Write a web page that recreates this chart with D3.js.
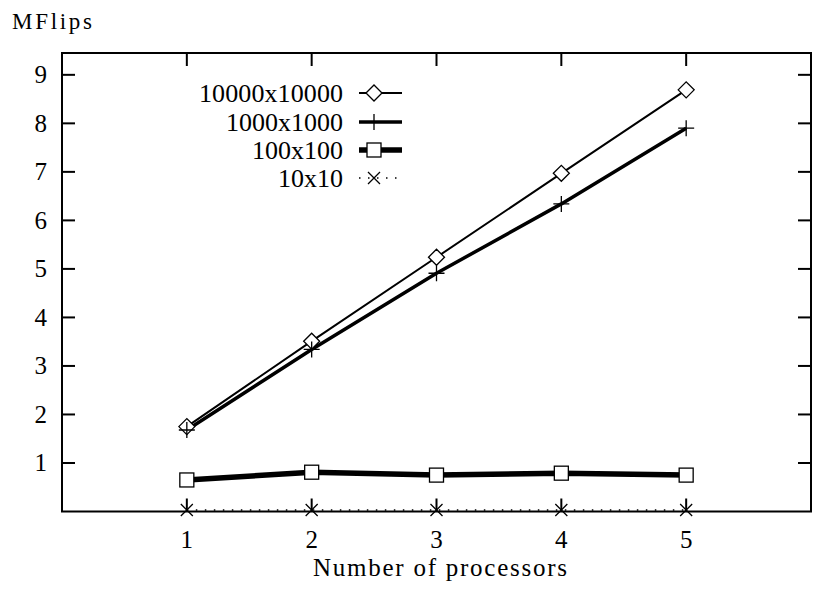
<!DOCTYPE html>
<html>
<head>
<meta charset="utf-8">
<script src="https://cdn.jsdelivr.net/npm/d3@7"></script>
<style>
  body { margin: 0; background: #fff; }
  text { font-family: "Liberation Serif", "DejaVu Serif", serif; fill: #000; }
</style>
</head>
<body>
<svg id="chart" width="816" height="589"></svg>
<script>
const processors = [1, 2, 3, 4, 5];
const xTicks = [1, 2, 3, 4, 5];
const yTicks = [1, 2, 3, 4, 5, 6, 7, 8, 9];
const seriesNames = ["10000x10000", "1000x1000", "100x100", "10x10"];
const s10000 = [1.75, 3.51, 5.24, 6.97, 8.69];
const s1000 = [1.68, 3.34, 4.91, 6.34, 7.90];
const s100 = [0.65, 0.81, 0.75, 0.79, 0.75];
const s10 = [0.03, 0.03, 0.03, 0.03, 0.03];
const yLabel = "MFlips";
const xLabel = "Number of processors";

const svg = d3.select("#chart");
const L = 62, R = 811, T = 53, B = 511.5;
const x = d3.scaleLinear().domain([0, 6]).range([L, R]);
const y = d3.scaleLinear().domain([0, 9.45]).range([B, T]);

const series = [
  { name: seriesNames[0], values: s10000, width: 2, dash: null, sym: "diamond", legW: 144 },
  { name: seriesNames[1], values: s1000, width: 3.5, dash: null, sym: "plus", legW: 117 },
  { name: seriesNames[2], values: s100, width: 5.5, dash: null, sym: "square", legW: 91 },
  { name: seriesNames[3], values: s10, width: 1.5, dash: "1.5,7.5", sym: "cross", legW: 65 }
];

const tickLen = 13;
const fs = 25;

const axG = svg.append("g").attr("stroke", "#000").attr("stroke-width", 2);
xTicks.forEach(t => {
  axG.append("line").attr("x1", x(t)).attr("x2", x(t)).attr("y1", B).attr("y2", B - tickLen);
  axG.append("line").attr("x1", x(t)).attr("x2", x(t)).attr("y1", T).attr("y2", T + tickLen);
});
yTicks.forEach(t => {
  axG.append("line").attr("x1", L).attr("x2", L + tickLen).attr("y1", y(t)).attr("y2", y(t));
  axG.append("line").attr("x1", R).attr("x2", R - tickLen).attr("y1", y(t)).attr("y2", y(t));
});

svg.append("g").selectAll("text").data(xTicks).join("text")
  .attr("x", d => x(d)).attr("y", 548).attr("text-anchor", "middle")
  .attr("font-size", fs).text(d => d);
svg.append("g").selectAll("text").data(yTicks).join("text")
  .attr("x", 47).attr("y", d => y(d)).attr("dy", "0.34em").attr("text-anchor", "end")
  .attr("font-size", fs).text(d => d);

svg.append("text").attr("x", 12).attr("y", 29).attr("font-size", 23)
  .attr("textLength", 80).attr("lengthAdjust", "spacing").text(yLabel);
svg.append("text").attr("x", 313).attr("y", 576)
  .attr("font-size", fs).attr("textLength", 254).attr("lengthAdjust", "spacing").text(xLabel);

function drawSym(g, type, cx, cy) {
  if (type === "diamond") {
    g.append("path").attr("d", `M${cx - 8},${cy}L${cx},${cy - 8}L${cx + 8},${cy}L${cx},${cy + 8}Z`)
      .attr("fill", "#fff").attr("stroke", "#000").attr("stroke-width", 1.3);
  } else if (type === "plus") {
    g.append("path").attr("d", `M${cx - 8},${cy}H${cx + 8}M${cx},${cy - 8}V${cy + 8}`)
      .attr("fill", "none").attr("stroke", "#000").attr("stroke-width", 1.3);
  } else if (type === "square") {
    g.append("rect").attr("x", cx - 7).attr("y", cy - 7).attr("width", 14).attr("height", 14)
      .attr("fill", "#fff").attr("stroke", "#000").attr("stroke-width", 1.3);
  } else if (type === "cross") {
    g.append("path").attr("d", `M${cx - 6},${cy - 6}L${cx + 6},${cy + 6}M${cx - 6},${cy + 6}L${cx + 6},${cy - 6}`)
      .attr("fill", "none").attr("stroke", "#000").attr("stroke-width", 1.3);
  }
}

const line = d3.line().x((d, i) => x(processors[i])).y(d => y(d));

const plotG = svg.append("g");
series.forEach(s => {
  plotG.append("path").attr("d", line(s.values)).attr("fill", "none")
    .attr("stroke", "#000").attr("stroke-width", s.width)
    .attr("stroke-dasharray", s.dash).attr("stroke-linejoin", "round");
});
series.forEach(s => {
  s.values.forEach((v, i) => drawSym(plotG, s.sym, x(processors[i]), y(v)));
});

const legRows = [93, 122, 150, 178];
const legG = svg.append("g");
series.forEach((s, i) => {
  const cy = legRows[i];
  legG.append("text").attr("x", 343 - s.legW).attr("y", cy).attr("dy", "0.34em")
    .attr("font-size", 26).attr("textLength", s.legW).attr("lengthAdjust", "spacing").text(s.name);
  legG.append("line").attr("x1", 359).attr("x2", 402).attr("y1", cy).attr("y2", cy)
    .attr("stroke", "#000").attr("stroke-width", s.width).attr("stroke-dasharray", s.dash);
  drawSym(legG, s.sym, 374, cy);
});

svg.append("rect").attr("x", L).attr("y", T).attr("width", R - L).attr("height", B - T)
  .attr("fill", "none").attr("stroke", "#000").attr("stroke-width", 2);
</script>
</body>
</html>
